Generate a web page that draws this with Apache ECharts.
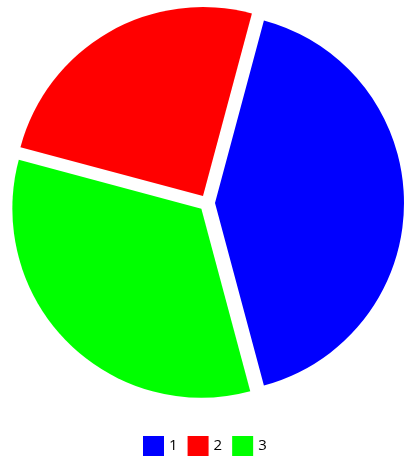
<!DOCTYPE html>
<html>
<head>
<meta charset="utf-8">
<script src="https://cdn.jsdelivr.net/npm/echarts@6/dist/echarts.min.js"></script>
<style>html,body{margin:0;padding:0;background:#fff;}#c{width:415px;height:467px;}</style>
</head>
<body>
<div id="c"></div>
<script>
const categories = ['1', '2', '3'];
const values = [5, 3, 4];
const colors = ['#0000ff', '#ff0000', '#00ff00'];

const chart = echarts.init(document.getElementById('c'));
chart.setOption({
  animation: false,
  legend: {
    top: 436,
    left: 143,
    padding: 0,
    itemWidth: 21,
    itemHeight: 20,
    itemGap: 10,
    icon: 'rect',
    selectedMode: false,
    itemStyle: { borderWidth: 0 },
    textStyle: { fontSize: 15, color: '#000', fontFamily: 'Open Sans' },
    data: categories
  },
  series: [{
    type: 'pie',
    center: [207, 203],
    radius: 189,
    startAngle: -75,
    clockwise: false,
    selectedMode: 'multiple',
    selectedOffset: 8,
    label: { show: false },
    labelLine: { show: false },
    emphasis: { disabled: true },
    itemStyle: { borderWidth: 0 },
    data: categories.map((c, i) => ({
      name: c,
      value: values[i],
      selected: true,
      itemStyle: { color: colors[i] },
      select: { itemStyle: { color: colors[i], borderWidth: 0 } }
    }))
  }]
});
</script>
</body>
</html>
